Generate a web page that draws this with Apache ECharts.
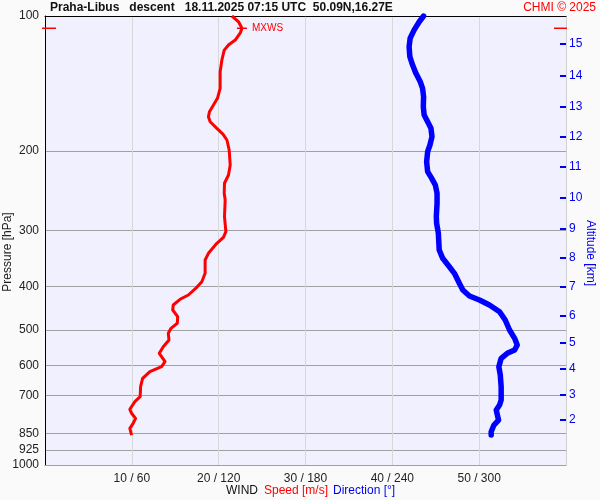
<!DOCTYPE html>
<html><head><meta charset="utf-8">
<script src="https://cdn.jsdelivr.net/npm/echarts@6/dist/echarts.min.js"></script>
<style>html,body{margin:0;padding:0;background:#fafafa}#c{width:600px;height:500px}</style>
</head><body><div id="c"></div>
<script>
// ---- data ----
const pressureTicks = [100, 200, 300, 400, 500, 600, 700, 850, 925, 1000];
const altitudeLabels = ['15','14','13','12','11','10','9','8','7','6','5','4','3','2'];
const altitudePressures = [115.4, 135.8, 159.2, 185.7, 216.6, 253.9, 298.1, 345.9, 400.8, 465, 534, 611, 698.5, 793.8];
const speedTicks = [10, 20, 30, 40, 50];

const speedPressure = [100, 103.0, 106.5, 109.1, 113.1, 116.0, 119.1, 125.3, 133.1, 144.9, 152.5, 157.8, 163.4, 167.6, 172.0, 177.9, 183.2, 188.9, 198.8, 214.7, 226.0, 235.8, 248.2, 256.9, 279.9, 302.3, 311.1, 320.8, 337.7, 349.5, 374.2, 390.6, 402.0, 418.2, 427.5, 440.2, 451.6, 467.4, 483.5, 496.1, 509.0, 526.8, 545.2, 564.0, 588.8, 604.0, 619.8, 641.1, 669.3, 704.5, 722.8, 751.5, 767.1, 787.1, 807.6, 828.6, 857.6];
const speedValues = [21.53, 22.29, 22.68, 22.49, 21.91, 21.13, 20.64, 20.37, 20.17, 20.17, 19.86, 19.40, 18.94, 18.82, 19.02, 19.79, 20.49, 20.95, 21.21, 21.33, 21.13, 20.67, 20.64, 20.75, 20.67, 20.83, 20.55, 19.79, 18.82, 18.44, 18.44, 18.06, 17.48, 16.51, 15.55, 14.77, 14.71, 15.28, 15.24, 14.51, 14.20, 14.28, 13.62, 13.16, 13.82, 13.43, 12.08, 11.24, 11.01, 10.96, 10.35, 9.77, 9.97, 10.43, 10.15, 9.77, 9.97];

const dirPressure = [100, 103.0, 107.4, 112.1, 117.1, 123.2, 128.6, 134.2, 140.1, 144.9, 151.3, 159.2, 166.2, 172.0, 177.9, 185.7, 193.8, 200.5, 211.1, 222.2, 229.9, 237.9, 248.2, 261.3, 279.9, 289.5, 304.8, 332.0, 346.5, 361.7, 374.2, 393.8, 407.6, 420.3, 429.0, 440.2, 455.6, 475.4, 500.4, 522.2, 540.5, 554.5, 564.0, 578.6, 604.0, 630.3, 669.3, 716.5, 735.2, 754.3, 794.0, 814.6, 843.0, 857.6];
const dirValues = [261.6, 258.6, 255.1, 252.3, 251.6, 252.1, 254.0, 256.3, 259.3, 260.9, 261.6, 261.4, 262.0, 264.4, 266.7, 267.4, 266.0, 264.4, 263.7, 264.4, 267.2, 269.7, 270.9, 270.9, 270.4, 270.6, 271.8, 272.4, 274.8, 279.4, 282.9, 286.3, 288.7, 293.3, 300.2, 307.1, 314.1, 318.0, 321.0, 324.5, 326.3, 324.5, 319.4, 315.2, 313.6, 314.6, 315.2, 315.2, 314.1, 311.8, 313.4, 310.2, 308.3, 308.3];

// ---- chart ----
const FONT = '"Liberation Sans", Arial, sans-serif';
const L = Math.log10;
const chart = echarts.init(document.getElementById('c'));

const option = {
  backgroundColor: '#fafafa',
  animation: false,
  textStyle: { fontFamily: FONT },
  title: [
    { text: 'Praha-Libus   descent   18.11.2025 07:15 UTC  50.09N,16.27E', left: 50, top: 2, padding: 0,
      textStyle: { fontSize: 12, fontWeight: 'bold', color: '#111', fontFamily: FONT } },
    { text: 'CHMI © 2025', right: 4, top: 2, padding: 0,
      textStyle: { fontSize: 12, fontWeight: 'normal', color: '#ff0000', fontFamily: FONT } }
  ],
  grid: { left: 45, right: 34, top: 16, bottom: 35, show: true, backgroundColor: '#f0f0fe', borderWidth: 0 },
  xAxis: [
    { type: 'value', min: 0, max: 60, interval: 10, position: 'bottom',
      axisLine: { show: true, lineStyle: { color: '#a0a0a0' } },
      axisTick: { show: false },
      axisLabel: { margin: 8, fontSize: 12, color: '#222', fontFamily: FONT,
        formatter: v => speedTicks.indexOf(v) >= 0 ? v + ' / ' + v * 6 : '' },
      splitLine: { show: true, lineStyle: { color: '#d8d8d8' } } },
    { type: 'value', min: 0, max: 60, position: 'top',
      axisLine: { show: true, lineStyle: { color: '#000' } },
      axisTick: { show: false }, axisLabel: { show: false }, splitLine: { show: false } },
    { type: 'value', min: 0, max: 360, show: false }
  ],
  yAxis: [
    { type: 'value', min: 2, max: 3, inverse: true, position: 'left',
      axisLine: { show: true, onZero: false, lineStyle: { color: '#000' } },
      axisTick: { show: false, customValues: pressureTicks.map(L) },
      axisLabel: { customValues: pressureTicks.map(L), margin: 6, fontSize: 12, color: '#222', fontFamily: FONT,
        formatter: v => String(Math.round(Math.pow(10, v))) },
      splitLine: { show: true, lineStyle: { color: '#a0a0a0' } } },
    { type: 'value', min: 2, max: 3, inverse: true, position: 'right',
      axisLine: { show: true, onZero: false, lineStyle: { color: '#d0d0d0' } },
      axisTick: { show: true, inside: true, length: 6, customValues: altitudePressures.map(L),
        lineStyle: { color: '#0000ee', width: 2 } },
      axisLabel: { customValues: altitudePressures.map(L), margin: 3, fontSize: 12, color: '#0000ee', fontFamily: FONT,
        formatter: v => {
          let best = 0, d = 1e9;
          altitudePressures.forEach((p, i) => { const dd = Math.abs(L(p) - v); if (dd < d) { d = dd; best = i; } });
          return altitudeLabels[best];
        } },
      splitLine: { show: false } }
  ],
  series: [
    { type: 'line', name: 'Direction', xAxisIndex: 2, yAxisIndex: 0, showSymbol: false, symbol: 'none',
      lineStyle: { color: '#0000ff', width: 5.5, cap: 'round', join: 'round' },
      data: dirPressure.map((p, i) => [dirValues[i], L(p)]) },
    { type: 'line', name: 'Speed', xAxisIndex: 0, yAxisIndex: 0, showSymbol: false, symbol: 'none',
      lineStyle: { color: '#ff0000', width: 3, join: 'round' },
      data: speedPressure.map((p, i) => [speedValues[i], L(p)]) }
  ]
};
chart.setOption(option);

// MXWS marker and texts
let mi = 0;
speedValues.forEach((v, i) => { if (v > speedValues[mi]) mi = i; });
const mp = chart.convertToPixel({ xAxisIndex: 0, yAxisIndex: 0 }, [speedValues[mi], L(speedPressure[mi])]);
const red = '#ff0000';
chart.setOption({
  graphic: [
    { type: 'line', shape: { x1: mp[0] - 5, y1: mp[1], x2: mp[0] + 5, y2: mp[1] }, style: { stroke: red, lineWidth: 1.5 }, z: 10 },
    { type: 'text', x: mp[0] + 10, y: mp[1], style: { text: 'MXWS', fill: red, fontSize: 10, fontFamily: FONT, verticalAlign: 'middle' }, z: 10 },
    { type: 'line', shape: { x1: 42, y1: mp[1], x2: 56, y2: mp[1] }, style: { stroke: red, lineWidth: 1.5 }, z: 10 },
    { type: 'line', shape: { x1: 554, y1: mp[1], x2: 567, y2: mp[1] }, style: { stroke: red, lineWidth: 1.5 }, z: 10 },
    { type: 'text', x: 8, y: 252, rotation: Math.PI / 2,
      style: { text: 'Pressure [hPa]', fill: '#222', fontSize: 12, fontFamily: FONT, align: 'center', verticalAlign: 'middle' } },
    { type: 'text', x: 590, y: 253, rotation: -Math.PI / 2,
      style: { text: 'Altitude [km]', fill: '#0000ee', fontSize: 12, fontFamily: FONT, align: 'center', verticalAlign: 'middle' } },
    { type: 'text', x: 226, y: 491,
      style: { text: 'WIND', fill: '#111', fontSize: 12, fontFamily: FONT, verticalAlign: 'middle' } },
    { type: 'text', x: 264, y: 491,
      style: { text: 'Speed [m/s]', fill: red, fontSize: 12, fontFamily: FONT, verticalAlign: 'middle' } },
    { type: 'text', x: 333, y: 491,
      style: { text: 'Direction [°]', fill: '#0000ee', fontSize: 12, fontFamily: FONT, verticalAlign: 'middle' } }
  ]
});
</script></body></html>
